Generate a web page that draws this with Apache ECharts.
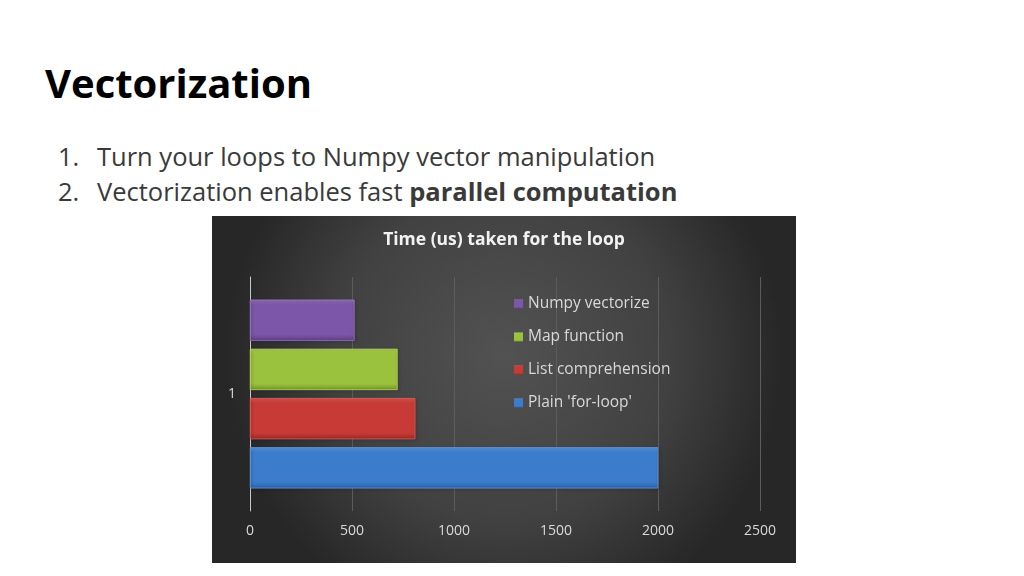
<!DOCTYPE html>
<html>
<head>
<meta charset="utf-8">
<script src="https://cdn.jsdelivr.net/npm/echarts@6/dist/echarts.min.js"></script>
<style>
  html, body { margin: 0; padding: 0; width: 1024px; height: 576px; background: #ffffff; overflow: hidden; font-family: "Open Sans", sans-serif; }
  #title { position: absolute; left: 45px; top: 55px; font-size: 40px; font-weight: bold; color: #000; line-height: 56px; margin: 0; }
  .item { position: absolute; font-size: 25.5px; color: #3a3a3a; line-height: 32px; white-space: nowrap; }
  .num { position: absolute; left: 58px; }
  .txt { position: absolute; left: 97px; }
  #chart { position: absolute; left: 212px; top: 216px; width: 584px; height: 347px; }
</style>
</head>
<body>
<div id="title">Vectorization</div>
<div class="item" style="top:140px;left:0"><span class="num">1.</span><span class="txt">Turn your loops to Numpy vector manipulation</span></div>
<div class="item" style="top:175px;left:0"><span class="num">2.</span><span class="txt">Vectorization enables fast <b>parallel computation</b></span></div>
<div id="chart"></div>
<script>
// Data
const categories = ['1'];
const seriesNames = ['Numpy vectorize', 'Map function', 'List comprehension', "Plain 'for-loop'"];
const numpyVectorize = [512];
const mapFunction = [723];
const listComprehension = [810];
const plainForLoop = [2000];
const xTicks = [0, 500, 1000, 1500, 2000, 2500];
const legendOrder = ['Numpy vectorize', 'Map function', 'List comprehension', "Plain 'for-loop'"];

const seriesValues = [numpyVectorize, mapFunction, listComprehension, plainForLoop];
const baseColors = [
  ['#9676c2', '#7c56a8', '#5e3f85'],
  ['#b5d95a', '#9bc23c', '#76972a'],
  ['#e25a55', '#c83a36', '#9c2a27'],
  ['#5a9be6', '#3c7ccc', '#2c63aa']
];

function barGradient(c) {
  return new echarts.graphic.LinearGradient(0, 0, 0, 1, [
    { offset: 0, color: c[0] },
    { offset: 0.12, color: c[1] },
    { offset: 0.85, color: c[1] },
    { offset: 1, color: c[2] }
  ]);
}

const chart = echarts.init(document.getElementById('chart'));
const option = {
  backgroundColor: new echarts.graphic.RadialGradient(0.5, 0.4, 0.8, [
    { offset: 0, color: '#525252' },
    { offset: 0.6, color: '#414141' },
    { offset: 1, color: '#272727' }
  ]),
  color: baseColors.map(c => c[1]),
  textStyle: { fontFamily: 'Open Sans' },
  title: {
    text: 'Time (us) taken for the loop',
    left: 'center',
    top: 10,
    textStyle: { color: '#f2f2f2', fontSize: 17.5, fontWeight: 'bold', fontFamily: 'Open Sans' }
  },
  legend: {
    data: legendOrder,
    orient: 'vertical',
    left: 297,
    top: 74,
    itemWidth: 9,
    itemHeight: 9,
    itemGap: 15,
    icon: 'rect',
    itemStyle: { borderWidth: 0, shadowBlur: 0, shadowOffsetX: 0, shadowOffsetY: 0 },
    textStyle: { color: '#d9d9d9', fontSize: 15.5, lineHeight: 18, fontFamily: 'Open Sans' }
  },
  grid: { left: 38, right: 36, top: 61, bottom: 52, containLabel: false },
  xAxis: {
    type: 'value',
    min: xTicks[0],
    max: xTicks[xTicks.length - 1],
    interval: 500,
    axisLine: { show: false },
    axisTick: { show: false },
    axisLabel: { color: '#d9d9d9', fontSize: 14, margin: 13, formatter: v => String(v) },
    splitLine: { lineStyle: { color: '#5c5c5c', width: 1 } }
  },
  yAxis: {
    type: 'category',
    data: categories,
    axisLine: { show: true, lineStyle: { color: '#c8c8c8', width: 1 } },
    axisTick: { show: false },
    axisLabel: { color: '#d9d9d9', fontSize: 14, margin: 14 }
  },
  series: seriesNames.map((name, i) => ({
    name: name,
    type: 'bar',
    data: seriesValues[i],
    barWidth: 41,
    barGap: '20%',
    itemStyle: {
      color: barGradient(baseColors[i]),
      borderColor: baseColors[i][0],
      borderWidth: 0.5,
      shadowColor: 'rgba(0,0,0,0.5)',
      shadowBlur: 3,
      shadowOffsetX: 1,
      shadowOffsetY: 1
    }
  }))
};
chart.setOption(option);
</script>
</body>
</html>
